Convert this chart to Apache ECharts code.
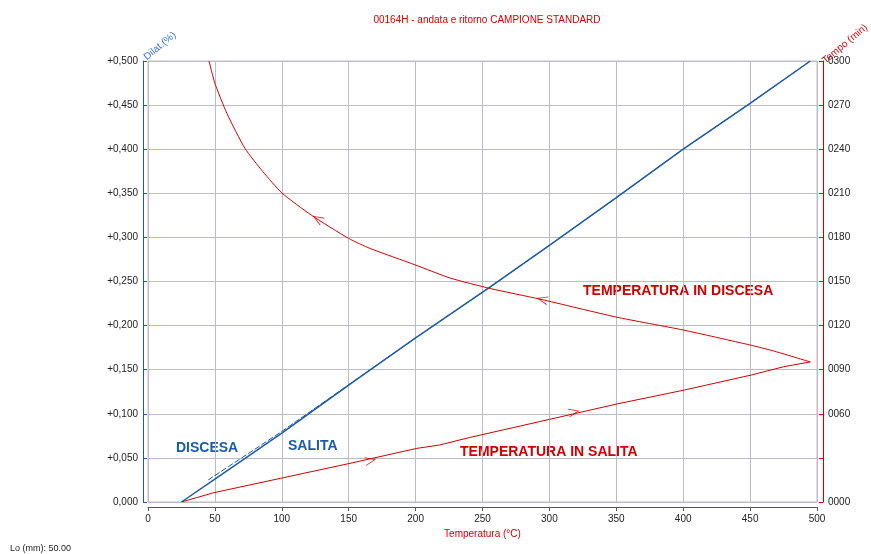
<!DOCTYPE html>
<html>
<head>
<meta charset="utf-8">
<script src="https://cdn.jsdelivr.net/npm/echarts@6/dist/echarts.min.js"></script>
<style>
  html, body { margin: 0; padding: 0; background: #fff; }
  #chart { width: 871px; height: 554px; }
</style>
</head>
<body>
<div id="chart"></div>
<script>
// Dilatazione (%) vs temperatura - salita
const dilatSalitaT = [25, 50, 75, 100, 156, 200, 255, 300, 350, 400, 450, 495];
const dilatSalita = [0.000, 0.026, 0.052, 0.078, 0.139, 0.186, 0.243, 0.291, 0.345, 0.400, 0.452, 0.500];

// Dilatazione (%) vs temperatura - discesa
const dilatDiscesaT = [495, 450, 400, 350, 300, 255, 200, 150, 100, 75, 60, 45];
const dilatDiscesa = [0.500, 0.452, 0.400, 0.345, 0.291, 0.243, 0.186, 0.133, 0.080, 0.055, 0.040, 0.025];

// Tempo (min) vs temperatura - salita
const tempoSalitaT = [25, 49, 99, 151, 201, 218, 241, 300, 350, 401, 451, 475, 495];
const tempoSalita = [0, 6.3, 16.1, 26.3, 36.5, 38.8, 44, 56.2, 66.6, 76.2, 86.4, 92, 95.3];

// Tempo (min) vs temperatura - discesa
const tempoDiscesaT = [495, 467, 450, 400, 350, 293, 256, 226, 200, 166, 150, 122, 100, 86, 72.5, 59, 50, 45.6];
const tempoDiscesa = [95.3, 102.9, 106.8, 117, 125.8, 138.0, 145.2, 152.3, 161.2, 172.5, 179.3, 195.2, 210.3, 224.6, 240.5, 264.3, 284.8, 300];

// Frecce sulla curva del tempo [temperatura, tempo, rotazione]
const frecce = [[127, 192.5, -32], [295, 137.7, -14], [166, 28.2, 192], [318, 61.2, 192]];

const xTicks = { min: 0, max: 500, interval: 50 };
const yLeftTicks = { min: 0, max: 0.5, interval: 0.05 };
const yRightTicks = { min: 0, max: 300, interval: 30 };

const pair = (xs, ys) => xs.map((x, i) => [x, ys[i]]);

const blue = '#1c5ba8';
const red = '#d10000';
const gridColor = '#bcbcc8';
const font = 'Liberation Sans, Arial, sans-serif';

const chart = echarts.init(document.getElementById('chart'));

const option = {
    animation: false,
    backgroundColor: '#fff',
    title: {
        text: '00164H - andata e ritorno CAMPIONE STANDARD',
        left: 482,
        textAlign: 'center',
        top: 10,
        textStyle: { color: red, fontSize: 10, fontWeight: 'normal', fontFamily: 'Liberation Sans Narrow, Liberation Sans, sans-serif' }
    },
    grid: { left: 148, right: 54, top: 61, bottom: 52 },
    xAxis: {
        type: 'value',
        min: xTicks.min, max: xTicks.max, interval: xTicks.interval,
        offset: 5,
        name: 'Temperatura (°C)',
        nameLocation: 'middle',
        nameGap: 22,
        nameTextStyle: { color: red, fontSize: 10, fontFamily: font },
        axisLine: { onZero: false, lineStyle: { color: '#555', width: 1 } },
        axisTick: { show: true, length: 4, lineStyle: { color: '#555' } },
        axisLabel: { color: '#222', fontSize: 10, margin: 7, fontFamily: font },
        splitLine: { show: true, lineStyle: { color: gridColor, width: 1 } }
    },
    yAxis: [
        {
            type: 'value',
            min: yLeftTicks.min, max: yLeftTicks.max, interval: yLeftTicks.interval,
            offset: 5,
            position: 'left',
            axisLine: { show: true, onZero: false, lineStyle: { color: blue, width: 1 } },
            axisTick: { show: true, inside: true, length: 4, lineStyle: { color: blue } },
            axisLabel: {
                color: '#222', fontSize: 10, margin: 5, fontFamily: font,
                formatter: v => (v === 0 ? '' : '+') + v.toFixed(3).replace('.', ',')
            },
            splitLine: { show: true, lineStyle: { color: gridColor, width: 1 } }
        },
        {
            type: 'value',
            min: yRightTicks.min, max: yRightTicks.max, interval: yRightTicks.interval,
            offset: 6,
            position: 'right',
            axisLine: { show: true, onZero: false, lineStyle: { color: red, width: 1 } },
            axisTick: { show: true, inside: true, length: 4, lineStyle: { color: red } },
            axisLabel: {
                color: '#222', fontSize: 10, margin: 5, fontFamily: font,
                formatter: v => v === 30 ? '' : String(v).padStart(4, '0')
            },
            splitLine: { show: false }
        }
    ],
    series: [
        {
            type: 'line', yAxisIndex: 0, symbol: 'none',
            data: pair(dilatSalitaT, dilatSalita),
            lineStyle: { color: blue, width: 1.5 }
        },
        {
            type: 'line', yAxisIndex: 0, symbol: 'none',
            data: pair(dilatDiscesaT, dilatDiscesa),
            lineStyle: { color: blue, width: 1, type: [6, 2] }
        },
        {
            type: 'line', yAxisIndex: 1, symbol: 'none',
            data: pair(tempoSalitaT, tempoSalita),
            lineStyle: { color: red, width: 1 }
        },
        {
            type: 'line', yAxisIndex: 1, symbol: 'none', smooth: 0.2,
            data: pair(tempoDiscesaT, tempoDiscesa),
            lineStyle: { color: red, width: 1 }
        },
        {
            type: 'scatter', yAxisIndex: 1,
            symbol: 'path://M10,0 L0,5 L10,10',
            symbolSize: [10, 8],
            data: frecce.map(f => ({ value: [f[0], f[1]], symbolRotate: f[2] })),
            itemStyle: { color: 'none', borderColor: red, borderWidth: 1 },
            z: 5
        }
    ],
    graphic: [
        { type: 'rect', shape: { x: 148, y: 61, width: 669, height: 441 }, style: { fill: 'none', stroke: gridColor, lineWidth: 1 }, silent: true },
        { type: 'text', x: 160, y: 46, rotation: Math.PI / 4.5, style: { text: 'Dilat.(%)', fill: '#3c6fd0', font: '10px ' + font, align: 'center', verticalAlign: 'middle' } },
        { type: 'text', x: 845, y: 44, rotation: Math.PI / 4.5, style: { text: 'Tempo (min)', fill: red, font: '10px ' + font, align: 'center', verticalAlign: 'middle' } },
        { type: 'text', x: 176, y: 448, style: { text: 'DISCESA', fill: blue, font: 'bold 14px ' + font, verticalAlign: 'middle' } },
        { type: 'text', x: 288, y: 446, style: { text: 'SALITA', fill: blue, font: 'bold 14px ' + font, verticalAlign: 'middle' } },
        { type: 'text', x: 583, y: 291, style: { text: 'TEMPERATURA IN DISCESA', fill: red, font: 'bold 14px ' + font, verticalAlign: 'middle' } },
        { type: 'text', x: 460, y: 452, style: { text: 'TEMPERATURA IN SALITA', fill: red, font: 'bold 14px ' + font, verticalAlign: 'middle' } },
        { type: 'text', x: 10, y: 549, style: { text: 'Lo (mm): 50.00', fill: '#222', font: '9px ' + font, verticalAlign: 'middle' } }
    ]
};

chart.setOption(option);
</script>
</body>
</html>
